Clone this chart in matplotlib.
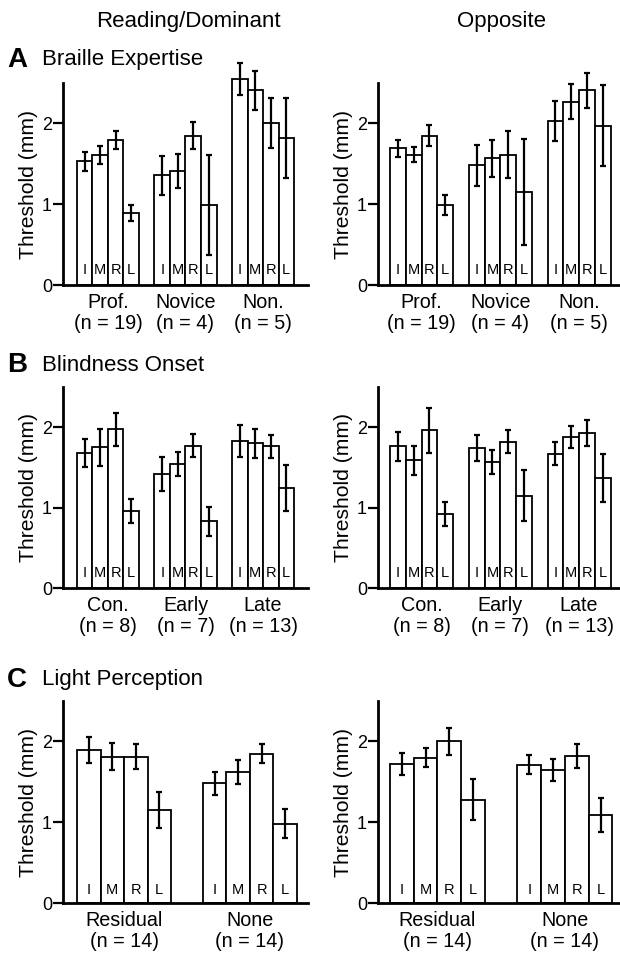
import matplotlib
matplotlib.use("Agg")
import matplotlib.pyplot as plt
import numpy as np

plt.rcParams['font.family'] = ['Liberation Sans', 'DejaVu Sans']

fingers = ["I", "M", "R", "L"]

# Panel A: Braille Expertise
groups_A = ["Prof.\n(n = 19)", "Novice\n(n = 4)", "Non.\n(n = 5)"]
A_read_mean = [1.53, 1.61, 1.79, 0.89, 1.36, 1.41, 1.85, 0.99, 2.55, 2.41, 2.01, 1.82]
A_read_err = [0.12, 0.11, 0.11, 0.10, 0.24, 0.21, 0.165, 0.62, 0.195, 0.24, 0.31, 0.49]
A_opp_mean = [1.69, 1.615, 1.85, 0.99, 1.48, 1.57, 1.615, 1.15, 2.03, 2.27, 2.41, 1.97]
A_opp_err = [0.10, 0.093, 0.128, 0.118, 0.257, 0.228, 0.29, 0.654, 0.248, 0.217, 0.217, 0.50]

# Panel B: Blindness Onset
groups_B = ["Con.\n(n = 8)", "Early\n(n = 7)", "Late\n(n = 13)"]
B_read_mean = [1.68, 1.75, 1.975, 0.96, 1.42, 1.54, 1.77, 0.83, 1.83, 1.80, 1.76, 1.24]
B_read_err = [0.174, 0.232, 0.207, 0.151, 0.211, 0.147, 0.145, 0.18, 0.195, 0.18, 0.14, 0.286]
B_opp_mean = [1.76, 1.59, 1.96, 0.92, 1.74, 1.57, 1.82, 1.15, 1.67, 1.88, 1.93, 1.37]
B_opp_err = [0.177, 0.18, 0.28, 0.148, 0.157, 0.152, 0.14, 0.318, 0.142, 0.134, 0.159, 0.295]

# Panel C: Light Perception
groups_C = ["Residual\n(n = 14)", "None\n(n = 14)"]
C_read_mean = [1.89, 1.81, 1.81, 1.15, 1.48, 1.62, 1.85, 0.98]
C_read_err = [0.159, 0.165, 0.153, 0.227, 0.146, 0.146, 0.118, 0.181]
C_opp_mean = [1.72, 1.80, 2.00, 1.28, 1.71, 1.65, 1.82, 1.09]
C_opp_err = [0.137, 0.12, 0.17, 0.257, 0.118, 0.137, 0.145, 0.215]

col_titles = ["Reading/Dominant", "Opposite"]
row_letters = ["A", "B", "C"]
row_titles = ["Braille Expertise", "Blindness Onset", "Light Perception"]

W, H = 620, 955
fig = plt.figure(figsize=(W / 100, H / 100), dpi=100)


def px_axes(x0, x1, y_top, y_bot):
    return fig.add_axes([x0 / W, 1 - y_bot / H, (x1 - x0) / W, (y_bot - y_top) / H])


def draw(ax, means, errs, groups, gap, xlim, letter_y):
    n_groups = len(groups)
    xs = []
    for g in range(n_groups):
        for b in range(4):
            xs.append(g * gap + b)
    xs = np.array(xs)
    bars = ax.bar(xs, means, width=1.0, color="white", edgecolor="black", linewidth=1.3, zorder=2)
    for p in bars:
        p.set_clip_on(False)
    eb = ax.errorbar(xs, means, yerr=errs, fmt="none", ecolor="black", elinewidth=1.6,
                     capsize=2.2, capthick=1.6, zorder=3)
    for art in eb.lines[1]:
        art.set_clip_on(False)
    for art in eb.lines[2]:
        art.set_clip_on(False)
    for i, x in enumerate(xs):
        ax.text(x, letter_y, fingers[i % 4], ha="center", va="center", fontsize=10.5, zorder=4)
    ax.set_xlim(*xlim)
    ax.set_ylim(0, 2.5)
    ax.set_yticks([0, 1, 2])
    ax.set_yticklabels(["0", "1", "2"])
    centers = [g * gap + 1.5 for g in range(n_groups)]
    ax.set_xticks(centers)
    ax.set_xticklabels(groups, fontsize=14.2, linespacing=1.12)
    ax.tick_params(axis="x", length=0, pad=6)
    ax.tick_params(axis="y", length=7, width=1.6, direction="out", labelsize=13, pad=1)
    for s in ["top", "right"]:
        ax.spines[s].set_visible(False)
    ax.spines["left"].set_linewidth(2.0)
    ax.spines["bottom"].set_linewidth(2.0)
    ax.set_ylabel("Threshold (mm)", fontsize=15.2, labelpad=3)


rows = [
    (A_read_mean, A_read_err, A_opp_mean, A_opp_err, groups_A, 5, 83, 285),
    (B_read_mean, B_read_err, B_opp_mean, B_opp_err, groups_B, 5, 387, 588),
    (C_read_mean, C_read_err, C_opp_mean, C_opp_err, groups_C, 5.36, 701, 903),
]

for r, (rm, re, om, oe, groups, gap, yt, yb) in enumerate(rows):
    if r < 2:
        xl_left = (-1.4, 14.4)
        xl_right = (-1.27, 14.1)
        ly = 0.19
    else:
        xl_left = (-1.1, 9.33)
        xl_right = (-1.0, 9.18)
        ly = 0.165
    axl = px_axes(63, 308, yt, yb)
    draw(axl, rm, re, groups, gap, xl_left, ly)
    axr = px_axes(378, 620, yt, yb)
    draw(axr, om, oe, groups, gap, xl_right, ly)

fig.text(188 / W, 1 - 21 / H, col_titles[0], ha="center", va="center", fontsize=16)
fig.text(501 / W, 1 - 21 / H, col_titles[1], ha="center", va="center", fontsize=16)

letter_y = [60, 365, 680]
for r in range(3):
    fig.text(7 / W, 1 - letter_y[r] / H, row_letters[r], ha="left", va="center",
             fontsize=20, fontweight="bold")
    fig.text(42 / W, 1 - letter_y[r] / H, row_titles[r], ha="left", va="center",
             fontsize=16)

fig.savefig("out.png", dpi=100)
